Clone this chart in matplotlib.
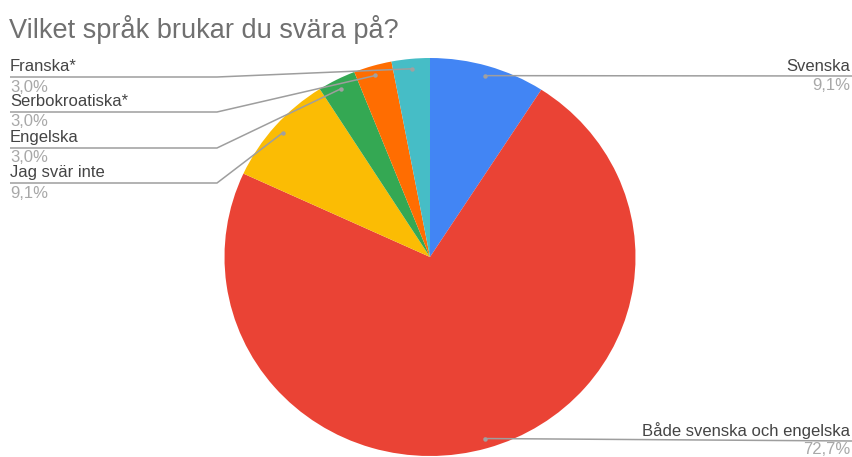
import numpy as np
import matplotlib
matplotlib.use("Agg")
import matplotlib.pyplot as plt

plt.rcParams['font.family'] = ['Liberation Sans', 'DejaVu Sans']

title = "Vilket språk brukar du svära på?"
categories = ["Svenska", "Både svenska och engelska", "Jag svär inte",
              "Engelska", "Serbokroatiska*", "Franska*"]
shares = [9.1, 72.7, 9.1, 3.0, 3.0, 3.0]
share_labels = ["9,1%", "72,7%", "9,1%", "3,0%", "3,0%", "3,0%"]
colors = ["#4285F4", "#EA4335", "#FBBC04", "#34A853", "#FF6D01", "#46BDC6"]

W, H = 852, 457
fig = plt.figure(figsize=(W / 100, H / 100), dpi=100)

# pie occupies an axes box (slightly wider than tall)
cx, cy, rx, ry = 430, 257, 205.5, 199
pie_ax = fig.add_axes([(cx - rx) / W, (H - cy - ry) / H, 2 * rx / W, 2 * ry / H])
wedges, _ = pie_ax.pie(shares, colors=colors, startangle=90, counterclock=False,
                       radius=1.0, wedgeprops=dict(linewidth=0))
pie_ax.set_xlim(-1, 1)
pie_ax.set_ylim(-1, 1)
pie_ax.set_aspect('auto')
pie_ax.axis('off')

# overlay in pixel coordinates for title, labels and leader lines
ov = fig.add_axes([0, 0, 1, 1], zorder=5)
ov.set_xlim(0, W)
ov.set_ylim(H, 0)
ov.axis('off')
ov.patch.set_alpha(0)

ov.text(9, 29, title, fontsize=19.5, color="#707070", va='center', ha='left')

line_col = "#9e9e9e"
name_col = "#444444"
pct_col = "#a8a8a8"
fs = 12


def dot_position(w, frac=0.95):
    mid = np.deg2rad((w.theta1 + w.theta2) / 2)
    p = pie_ax.transData.transform((frac * np.cos(mid), frac * np.sin(mid)))
    return ov.transData.inverted().transform(p)


# label anchors: (side, line y)
left_lines = {"Franska*": 77, "Serbokroatiska*": 112, "Engelska": 148, "Jag svär inte": 183}
right_lines = {"Svenska": 76, "Både svenska och engelska": 441}
elbow_x = 217

for w, name, pct in zip(wedges, categories, share_labels):
    dx, dy = dot_position(w)
    if name in left_lines:
        ly = left_lines[name]
        ov.plot([10, elbow_x, dx], [ly, ly, dy], color=line_col, lw=1.1,
                solid_capstyle='butt', clip_on=False)
        ov.text(10, ly - 6, name, fontsize=fs, color=name_col, ha='left', va='baseline')
        ov.text(10, ly + 14.5, pct, fontsize=fs, color=pct_col, ha='left', va='baseline')
    else:
        ly = right_lines[name]
        ov.plot([dx, W], [dy, ly], color=line_col, lw=1.1, clip_on=False)
        ov.text(850, ly - 5, name, fontsize=fs, color=name_col, ha='right', va='baseline')
        ov.text(850, min(ly + 14.5, H - 2.5), pct, fontsize=fs, color=pct_col,
                ha='right', va='baseline')
    ov.plot([dx], [dy], 'o', ms=3.2, color="#a0a0a0", mec='none')

fig.savefig("out.png", dpi=100, facecolor='white')
